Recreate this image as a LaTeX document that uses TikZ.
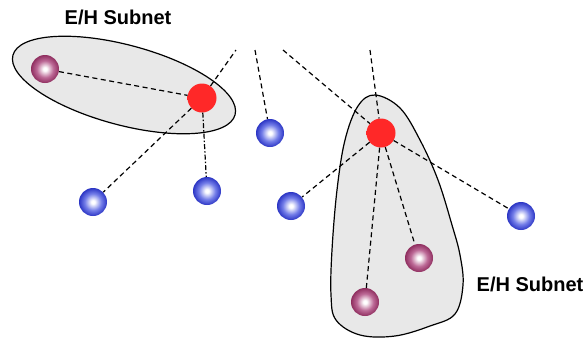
\documentclass[tikz,border=0pt]{standalone}
\usepackage{fontspec}
\setmainfont{Liberation Sans}
\usetikzlibrary{shapes.geometric}

\definecolor{subnetfill}{RGB}{232,232,232}
\definecolor{blueedge}{RGB}{30,40,190}
\definecolor{bluemid}{RGB}{115,125,232}
\definecolor{plumedge}{RGB}{135,35,85}
\definecolor{plummid}{RGB}{188,105,150}
\definecolor{redcore}{RGB}{255,40,40}
\definecolor{rededge}{RGB}{205,10,10}

% sphere shadings; the ball outline sits at about 35bp of the shading radius
\pgfdeclareradialshading{bluesphere}{\pgfpoint{0bp}{0bp}}{%
  color(0bp)=(white); color(3bp)=(white); color(15bp)=(bluemid);
  color(27bp)=(blueedge); color(50bp)=(blueedge)}
\pgfdeclareradialshading{plumsphere}{\pgfpoint{0bp}{0bp}}{%
  color(0bp)=(white); color(3bp)=(white); color(15bp)=(plummid);
  color(27bp)=(plumedge); color(50bp)=(plumedge)}
\pgfdeclareradialshading{redsphere}{\pgfpoint{0bp}{0bp}}{%
  color(0bp)=(redcore); color(27bp)=(redcore); color(33bp)=(rededge);
  color(50bp)=(rededge)}

\tikzset{
  x=1pt, y=-1pt,
  ball/.style={circle, inner sep=0pt, minimum size=28pt},
  hostball/.style={ball, shading=bluesphere},
  ehball/.style={ball, shading=plumsphere},
  routerball/.style={ball, minimum size=29pt, shading=redsphere},
  link/.style={line width=1.2pt, dash pattern=on 5pt off 3.5pt},
  dotlink/.style={line width=1.2pt, dash pattern=on 5pt off 2pt on 1.5pt off 2pt},
  subnet/.style={draw=black, line width=1.2pt, fill=subnetfill},
  label/.style={font=\bfseries\fontsize{20}{24}\selectfont, inner sep=0pt}
}

\begin{document}
\begin{tikzpicture}
  \useasboundingbox (0,0) rectangle (587,341);

  % subnet regions
  \node[subnet, ellipse, inner sep=0pt, minimum width=230pt, minimum height=80pt,
        rotate=-15] (subA) at (124,85) {};
  \draw[subnet] plot[smooth cycle, tension=0.6] coordinates {
    (375,95) (400,108) (420,140) (438,180) (452,225) (460,255) (463,285)
    (455,314) (430,326) (395,336) (360,335) (336,320) (331,295) (332,250)
    (337,190) (345,140) (358,106)};

  \node[label] (labA) at (118,17) {E/H Subnet};
  \node[label] (labB) at (530,284) {E/H Subnet};

  % nodes
  \node[routerball] (r1) at (202,98) {};
  \node[routerball] (r2) at (381,133) {};
  \node[ehball] (p1) at (45,69) {};
  \node[ehball] (p2) at (419,258) {};
  \node[ehball] (p3) at (365,302) {};
  \node[hostball] (h1) at (270,133) {};
  \node[hostball] (h2) at (207,191) {};
  \node[hostball] (h3) at (93,202) {};
  \node[hostball] (h4) at (291,206) {};
  \node[hostball] (h5) at (521,216) {};

  % loose ends of links leaving the picture upwards
  \coordinate (u1) at (236,50);
  \coordinate (u2) at (255,50);
  \coordinate (u3) at (283,50);
  \coordinate (u4) at (370,50);

  % links
  \draw[link] (p1) -- (r1);
  \draw[link] (r1) -- (u1);
  \draw[link] (r1) -- (h3);
  \draw[dotlink] (r1) -- (h2);
  \draw[link] (u2) -- (h1);
  \draw[link] (u3) -- (r2);
  \draw[link] (u4) -- (r2);
  \draw[link] (r2) -- (h4);
  \draw[link] (r2) -- (h5);
  \draw[link] (r2) -- (p2);
  \draw[link] (r2) -- (p3);
\end{tikzpicture}
\end{document}
